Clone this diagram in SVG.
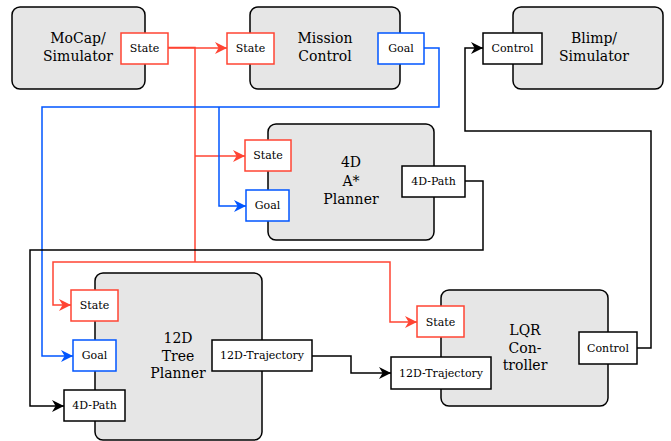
<svg xmlns="http://www.w3.org/2000/svg" width="671" height="441" viewBox="0 0 671 441">
<style>
.node{fill:#e6e6e6;stroke:#000;stroke-width:1.5}
.port{fill:#fff;stroke-width:1.5}
.pr{stroke:#ff4433}.pb{stroke:#0055ff}.pk{stroke:#000}
.nt{font-size:14px;text-anchor:middle;fill:#000}
.pt{font-size:11px;text-anchor:middle;fill:#000}
.c{fill:none;stroke-width:1.5}
.cr{stroke:#ff4433}.cb{stroke:#0055ff}.ck{stroke:#000}
</style>
<defs>
<marker id="ar" markerUnits="userSpaceOnUse" markerWidth="12" markerHeight="12" refX="10" refY="5" orient="auto" viewBox="0 0 10 10"><path d="M0,0 L10,5 L0,10 L3,5 z" fill="#ff4433"/></marker>
<marker id="ab" markerUnits="userSpaceOnUse" markerWidth="12" markerHeight="12" refX="10" refY="5" orient="auto" viewBox="0 0 10 10"><path d="M0,0 L10,5 L0,10 L3,5 z" fill="#0055ff"/></marker>
<marker id="ak" markerUnits="userSpaceOnUse" markerWidth="12" markerHeight="12" refX="10" refY="5" orient="auto" viewBox="0 0 10 10"><path d="M0,0 L10,5 L0,10 L3,5 z" fill="#000"/></marker>
</defs>
<g id="connectors">
<path class="c cr" d="M168,48 H227" marker-end="url(#ar)"/>
<path class="c cr" d="M168,47.5 H195 V262"/>
<path class="c cr" d="M195,156 H245" marker-end="url(#ar)"/>
<path class="c cr" d="M195,262 H53 V305 H71" marker-end="url(#ar)"/>
<path class="c cr" d="M195,262 H390 V322 H417" marker-end="url(#ar)"/>
<path class="c cb" d="M424,48 H439 V107 H42 V356 H73" marker-end="url(#ab)"/>
<path class="c cb" d="M219,107 V206 H246" marker-end="url(#ab)"/>
<path class="c ck" d="M465,181 H483 V250 H30 V406 H64" marker-end="url(#ak)"/>
<path class="c ck" d="M312,356 H351 V373 H391" marker-end="url(#ak)"/>
<path class="c ck" d="M637,348 H651 V131 H465 V48 H483" marker-end="url(#ak)"/>
</g>
<g font-family="DejaVu Serif, Liberation Serif, serif">
<g id="mocap">
<rect class="node" x="12" y="7" width="133" height="82" rx="8"/>
<text class="nt" x="78" y="43">MoCap/</text>
<text class="nt" x="78" y="61">Simulator</text>
<rect class="port pr" x="121" y="33" width="47" height="31"/>
<text class="pt" x="144.5" y="52">State</text>
</g>
<g id="mission">
<rect class="node" x="250" y="7" width="150" height="82" rx="8"/>
<text class="nt" x="325" y="43">Mission</text>
<text class="nt" x="325" y="61">Control</text>
<rect class="port pr" x="227" y="33" width="47" height="31"/>
<text class="pt" x="250.5" y="52">State</text>
<rect class="port pb" x="378" y="33" width="46" height="31"/>
<text class="pt" x="401" y="52">Goal</text>
</g>
<g id="blimp">
<rect class="node" x="513" y="7" width="150" height="82" rx="8"/>
<text class="nt" x="594" y="43">Blimp/</text>
<text class="nt" x="594" y="61">Simulator</text>
<rect class="port pk" x="483" y="33" width="59" height="31"/>
<text class="pt" x="512.5" y="52">Control</text>
</g>
<g id="astar">
<rect class="node" x="268" y="124" width="166" height="116" rx="8"/>
<text class="nt" x="351" y="167">4D</text>
<text class="nt" x="351" y="186">A*</text>
<text class="nt" x="351" y="204">Planner</text>
<rect class="port pr" x="245" y="140" width="46" height="31"/>
<text class="pt" x="268" y="159">State</text>
<rect class="port pb" x="246" y="190" width="43" height="31"/>
<text class="pt" x="267.5" y="209">Goal</text>
<rect class="port pk" x="402" y="166" width="63" height="31"/>
<text class="pt" x="433.5" y="185">4D-Path</text>
</g>
<g id="tree">
<rect class="node" x="95" y="273" width="167" height="167" rx="8"/>
<text class="nt" x="178" y="343">12D</text>
<text class="nt" x="178" y="361">Tree</text>
<text class="nt" x="178" y="378">Planner</text>
<rect class="port pr" x="71" y="290" width="47" height="31"/>
<text class="pt" x="94.5" y="309">State</text>
<rect class="port pb" x="73" y="340" width="43" height="31"/>
<text class="pt" x="94.5" y="359">Goal</text>
<rect class="port pk" x="64" y="390" width="61" height="31"/>
<text class="pt" x="94.5" y="409">4D-Path</text>
<rect class="port pk" x="212" y="340" width="100" height="31"/>
<text class="pt" x="262" y="359">12D-Trajectory</text>
</g>
<g id="lqr">
<rect class="node" x="441" y="290" width="167" height="116" rx="8"/>
<text class="nt" x="525" y="335">LQR</text>
<text class="nt" x="525" y="353">Con-</text>
<text class="nt" x="525" y="370">troller</text>
<rect class="port pr" x="417" y="306" width="47" height="31"/>
<text class="pt" x="440.5" y="326">State</text>
<rect class="port pk" x="391" y="357" width="100" height="32"/>
<text class="pt" x="441" y="377">12D-Trajectory</text>
<rect class="port pk" x="579" y="332" width="58" height="32"/>
<text class="pt" x="608" y="352">Control</text>
</g>
</g>
</svg>
